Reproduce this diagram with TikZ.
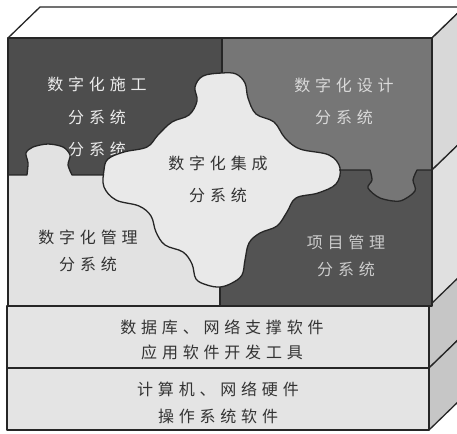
\documentclass[tikz,border=0pt]{standalone}
\usepackage{fontspec}
\newfontfamily\cjk[LetterSpace=30]{Noto Sans CJK SC}
\usepackage{xcolor}

\definecolor{tlgray}{HTML}{4D4D4D}
\definecolor{trgray}{HTML}{767676}
\definecolor{brgray}{HTML}{535353}
\definecolor{blgray}{HTML}{E2E2E2}
\definecolor{midgray}{HTML}{E9E9E9}
\definecolor{layergray}{HTML}{E4E4E4}
\definecolor{sideA}{HTML}{D8D8D8}
\definecolor{sideB}{HTML}{E0E0E0}
\definecolor{sideC}{HTML}{C6C6C6}

\tikzset{
  rim/.style={draw=black!85, line width=1.3pt, line join=round},
  blocktext/.style={font=\cjk\fontsize{16}{#1}\selectfont, align=center, inner sep=0pt},
}

\begin{document}
\begin{tikzpicture}[x=1pt, y=-1pt]
            \useasboundingbox (0,0) rectangle (457,433);
            \clip (0,0) rectangle (457,433);

            % top face of the block
            \filldraw[rim, fill=white] (8,38) -- (40,7) -- (464,7) -- (432,38) -- cycle;

            % right side, one slab per level
            \filldraw[rim, fill=sideA] (432,38) -- (464,7) -- (464,139) -- (432,170) -- cycle;
            \filldraw[rim, fill=sideB] (432,170) -- (464,139) -- (464,275) -- (432,306) -- cycle;
            \filldraw[rim, fill=sideC] (429,306) -- (461,275) -- (461,337) -- (429,368) -- cycle;
            \filldraw[rim, fill=sideC] (429,368) -- (461,337) -- (461,399) -- (429,430) -- cycle;

            % four corner pieces
            \fill[tlgray] (8,38) rectangle (221,175);
            \fill[trgray] (221,38) rectangle (432,170);
            \fill[blgray] (8,175) rectangle (221,306);
            \fill[brgray] (221,170) rectangle (432,306);

            % tabs reaching into the neighbour piece
            \fill[blgray] plot[smooth] coordinates {(27,176) (28,163) (26,153) (33,147) (48,144) (63,147) (70,155) (68,165) (72,176)} -- cycle;
            \fill[trgray] plot[smooth] coordinates {(370,169) (372,180) (368,188) (380,198) (400,201) (415,191) (413,180) (417,169)} -- cycle;

            \node[blocktext=32.5, text=black!8] (build) at (97,117) {数字化施工\\分系统\\分系统};

            % centre piece
            \filldraw[rim, fill=midgray] plot[smooth cycle, tension=0.6] coordinates {
              (222,73) (236,74) (245,83) (248,98) (256,114) (274,122) (285,138) (300,149)
              (329,155) (340,168) (336,184) (318,193) (296,198) (287,212) (277,226) (260,233)
              (249,243) (245,260) (242,275) (232,283) (220,287) (207,285) (196,279) (192,264)
              (183,252) (165,245) (156,232) (151,216) (139,206) (116,200) (104,187) (104,170)
              (108,159) (124,152) (147,147) (158,135) (172,122) (189,115) (197,101) (195,87)
              (203,76)};

            % seams between the pieces
            \draw[rim] (222,38) -- (222,73);
            \draw[rim] (220,287) -- (220,306);
            \draw[rim] (8,175) -- plot[smooth] coordinates {(27,175) (28,163) (26,153) (33,147) (48,144) (63,147) (70,155) (68,165) (72,175)} -- (104,175);
            \draw[rim] (339,170) -- plot[smooth] coordinates {(370,170) (372,180) (368,188) (380,198) (400,201) (415,191) (413,180) (417,170)} -- (432,170);
            \draw[rim] (8,38) rectangle (432,306);

            % software and hardware levels
            \filldraw[rim, fill=layergray] (7,306) rectangle (429,368);
            \filldraw[rim, fill=layergray] (7,368) rectangle (429,430);

            \node[blocktext=32, text=black!15] (design) at (344,101) {数字化设计\\分系统};
            \node[blocktext=32, text=black!80] (integ) at (218,179) {数字化集成\\分系统};
            \node[blocktext=27, text=black!80] (manage) at (88,251) {数字化管理\\分系统};
            \node[blocktext=27, text=black!20] (project) at (346,256) {项目管理\\分系统};
            \node[blocktext=25, text=black!80] (soft) at (222,340) {数据库、网络支撑软件\\应用软件开发工具};
            \node[blocktext=27, text=black!80] (hard) at (218,403) {计算机、网络硬件\\操作系统软件};
        \end{tikzpicture}
\end{document}
